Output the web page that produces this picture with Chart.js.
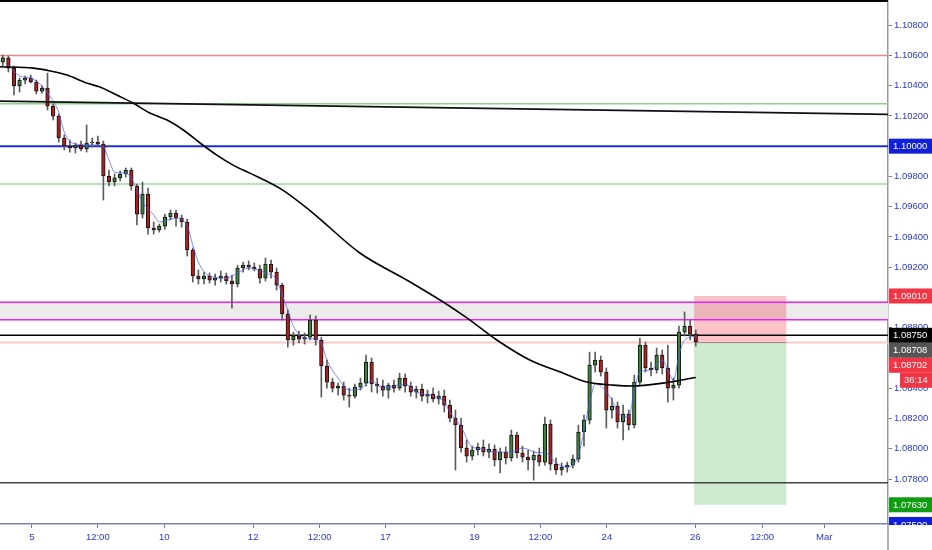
<!DOCTYPE html>
<html>
<head>
<meta charset="utf-8">
<title>EURUSD</title>
<script src="https://cdn.jsdelivr.net/npm/chart.js@4.4.1/dist/chart.umd.min.js"></script>
<style>
    html, body { margin: 0; padding: 0; background: #ffffff; }
    #wrap { width: 932px; height: 550px; position: relative; }
</style>
</head>
<body>
<div id="wrap"><canvas id="myChart"></canvas></div>
<script>
// candles, one slot each (index = x position)
const candleOpen = [
    1.10556, 1.10583, 1.10516, 1.10398, 1.10437, 1.10450, 1.10424, 1.10364, 1.10384, 1.10265,
    1.10199, 1.10054, 1.10001, 1.09988, 1.10008, 1.09981, 1.10021, 1.10027, 1.10014, 1.09803,
    1.09763, 1.09790, 1.09816, 1.09842, 1.09737, 1.09551, 1.09684, 1.09459, 1.09446, 1.09472,
    1.09532, 1.09558, 1.09525, 1.09499, 1.09314, 1.09142, 1.09122, 1.09142, 1.09115, 1.09128,
    1.09142, 1.09109, 1.09089, 1.09195, 1.09214, 1.09201, 1.09188, 1.09128, 1.09221, 1.09168,
    1.09082, 1.08891, 1.08719, 1.08745, 1.08725, 1.08738, 1.08851, 1.08719, 1.08547, 1.08441,
    1.08401, 1.08415, 1.08355, 1.08348, 1.08408, 1.08434, 1.08573, 1.08428, 1.08415, 1.08388,
    1.08421, 1.08401, 1.08467, 1.08415, 1.08375, 1.08395, 1.08348, 1.08362, 1.08329, 1.08348,
    1.08289, 1.08203, 1.08157, 1.08005, 1.07952, 1.07992, 1.08012, 1.07978, 1.07998, 1.07926,
    1.07978, 1.07939, 1.08091, 1.07972, 1.07945, 1.07926, 1.07959, 1.07912, 1.08164, 1.07899,
    1.07860, 1.07879, 1.07892, 1.07932, 1.08111, 1.08190, 1.08553, 1.08587, 1.08507, 1.08256,
    1.08282, 1.08177, 1.08229, 1.08157, 1.08441, 1.08685, 1.08534, 1.08521, 1.08619, 1.08534,
    1.08401, 1.08421, 1.08771, 1.08811, 1.08758
]
const candleHigh = [
    1.10602, 1.10596, 1.10530, 1.10450, 1.10464, 1.10470, 1.10437, 1.10398, 1.10483, 1.10279,
    1.10212, 1.10074, 1.10041, 1.10021, 1.10034, 1.10140, 1.10054, 1.10067, 1.10034, 1.09842,
    1.09816, 1.09836, 1.09856, 1.09856, 1.09750, 1.09763, 1.09723, 1.09499, 1.09485, 1.09551,
    1.09578, 1.09578, 1.09545, 1.09518, 1.09327, 1.09182, 1.09168, 1.09162, 1.09155, 1.09175,
    1.09162, 1.09148, 1.09214, 1.09234, 1.09241, 1.09228, 1.09214, 1.09261, 1.09248, 1.09195,
    1.09095, 1.08917, 1.08771, 1.08778, 1.08765, 1.08884, 1.08877, 1.08738, 1.08587, 1.08467,
    1.08434, 1.08441, 1.08401, 1.08428, 1.08467, 1.08619, 1.08600, 1.08467, 1.08454, 1.08434,
    1.08454, 1.08500, 1.08494, 1.08441, 1.08415, 1.08428, 1.08388, 1.08401, 1.08381, 1.08388,
    1.08322, 1.08256, 1.08203, 1.08058, 1.08018, 1.08038, 1.08058, 1.08032, 1.08025, 1.08005,
    1.08012, 1.08124, 1.08111, 1.08018, 1.07992, 1.07985, 1.08005, 1.08210, 1.08190, 1.07939,
    1.07906, 1.07912, 1.07959, 1.08157, 1.08223, 1.08639, 1.08639, 1.08613, 1.08534, 1.08335,
    1.08309, 1.08289, 1.08256, 1.08487, 1.08732, 1.08705, 1.08573, 1.08666, 1.08653, 1.08685,
    1.08467, 1.08811, 1.08904, 1.08851, 1.08785
]
const candleLow = [
    1.10530, 1.10490, 1.10338, 1.10358, 1.10411, 1.10417, 1.10345, 1.10351, 1.10239, 1.10173,
    1.10027, 1.09975, 1.09961, 1.09955, 1.09968, 1.09961, 1.09994, 1.10001, 1.09644, 1.09737,
    1.09737, 1.09770, 1.09796, 1.09710, 1.09479, 1.09525, 1.09419, 1.09419, 1.09432, 1.09452,
    1.09512, 1.09472, 1.09465, 1.09274, 1.09102, 1.09089, 1.09089, 1.09095, 1.09082, 1.09102,
    1.09089, 1.08930, 1.09069, 1.09168, 1.09182, 1.09175, 1.09095, 1.09109, 1.09128, 1.09049,
    1.08851, 1.08672, 1.08685, 1.08699, 1.08692, 1.08719, 1.08685, 1.08342, 1.08401, 1.08375,
    1.08355, 1.08322, 1.08276, 1.08335, 1.08388, 1.08415, 1.08375, 1.08368, 1.08348, 1.08335,
    1.08375, 1.08388, 1.08375, 1.08348, 1.08335, 1.08315, 1.08302, 1.08309, 1.08296, 1.08243,
    1.08177, 1.07860, 1.07978, 1.07912, 1.07926, 1.07959, 1.07952, 1.07939, 1.07886, 1.07840,
    1.07899, 1.07919, 1.07939, 1.07912, 1.07860, 1.07793, 1.07886, 1.07892, 1.07860, 1.07833,
    1.07826, 1.07846, 1.07873, 1.07912, 1.08018, 1.08164, 1.08507, 1.08481, 1.08137, 1.08203,
    1.08137, 1.08058, 1.08124, 1.08137, 1.08421, 1.08507, 1.08481, 1.08500, 1.08494, 1.08309,
    1.08322, 1.08401, 1.08745, 1.08719, 1.08679
]
const candleClose = [
    1.10583, 1.10516, 1.10398, 1.10437, 1.10450, 1.10424, 1.10364, 1.10384, 1.10265, 1.10199,
    1.10054, 1.10001, 1.09988, 1.10008, 1.09981, 1.10021, 1.10027, 1.10014, 1.09803, 1.09763,
    1.09790, 1.09816, 1.09842, 1.09737, 1.09551, 1.09684, 1.09459, 1.09446, 1.09472, 1.09532,
    1.09558, 1.09525, 1.09499, 1.09314, 1.09142, 1.09122, 1.09142, 1.09115, 1.09128, 1.09142,
    1.09109, 1.09089, 1.09195, 1.09214, 1.09201, 1.09188, 1.09128, 1.09221, 1.09168, 1.09082,
    1.08891, 1.08719, 1.08745, 1.08725, 1.08738, 1.08851, 1.08719, 1.08547, 1.08441, 1.08401,
    1.08415, 1.08355, 1.08348, 1.08408, 1.08434, 1.08573, 1.08428, 1.08415, 1.08388, 1.08421,
    1.08401, 1.08467, 1.08415, 1.08375, 1.08395, 1.08348, 1.08362, 1.08329, 1.08348, 1.08289,
    1.08203, 1.08157, 1.08005, 1.07952, 1.07992, 1.08012, 1.07978, 1.07998, 1.07926, 1.07978,
    1.07939, 1.08091, 1.07972, 1.07945, 1.07926, 1.07959, 1.07912, 1.08164, 1.07899, 1.07860,
    1.07879, 1.07892, 1.07932, 1.08111, 1.08190, 1.08553, 1.08587, 1.08507, 1.08256, 1.08282,
    1.08177, 1.08229, 1.08157, 1.08441, 1.08685, 1.08534, 1.08521, 1.08619, 1.08534, 1.08401,
    1.08421, 1.08771, 1.08811, 1.08758, 1.08708
]

// slow moving average (black curve)
const maSlots = [-0.5, 5.5, 8.5, 11.5, 15, 17.4, 20.4, 23.3, 26.3, 29.4, 32.3, 35.3, 38.3, 41.2, 44.2,
    50.1, 55.5, 63.9, 72.3, 78.8, 81.8, 83.6, 88.4, 94.3, 100.3, 104.5, 109.2, 112.8, 118.1, 124]
const maValues = [1.10525, 1.10516, 1.10497, 1.10470, 1.10417, 1.10391, 1.10338, 1.10285, 1.10219, 1.10173,
    1.10107, 1.10021, 1.09941, 1.09875, 1.09822, 1.09710, 1.09558, 1.09294, 1.09115, 1.08970,
    1.08897, 1.08851, 1.08719, 1.08587, 1.08500, 1.08441, 1.08421, 1.08415, 1.08434, 1.08471]

// fast average (thin blue)
const emaSlots = [1, 3, 5, 7, 8, 10, 11, 13, 16, 18, 19, 20, 22, 23, 24, 25, 27, 28, 31, 33, 34, 35, 37, 40,
    42, 44, 47, 49, 50, 51, 52, 54, 56, 57, 58, 60, 62, 64, 66, 68, 72, 74, 77, 79, 80, 82, 84, 86,
    88, 91, 93, 96, 97, 99, 101, 103, 105, 106, 107, 109, 110, 112, 113, 114, 116, 118, 119, 120,
    121, 122, 124]
const emaValues = [1.10536, 1.10464, 1.10450, 1.10398, 1.10351, 1.10226, 1.10093, 1.10014, 1.10008, 1.09994,
    1.09909, 1.09829, 1.09822, 1.09790, 1.09710, 1.09631, 1.09545, 1.09499, 1.09525, 1.09472,
    1.09347, 1.09234, 1.09142, 1.09128, 1.09162, 1.09195, 1.09162, 1.09115, 1.09016, 1.08917,
    1.08811, 1.08732, 1.08725, 1.08699, 1.08587, 1.08467, 1.08388, 1.08395, 1.08448, 1.08401,
    1.08428, 1.08375, 1.08348, 1.08309, 1.08243, 1.08144, 1.08012, 1.07998, 1.07978, 1.07978,
    1.08005, 1.07972, 1.07978, 1.07906, 1.07879, 1.07959, 1.08302, 1.08428, 1.08415, 1.08322,
    1.08243, 1.08210, 1.08388, 1.08507, 1.08521, 1.08587, 1.08521, 1.08454, 1.08619, 1.08719,
    1.08745]

// long trendline
const trendSlots = [-0.5, 158.4]
const trendValues = [1.10298, 1.10210]

// horizontal levels
const levelValues = [1.10600, 1.10280, 1.10000, 1.09750, 1.08968, 1.08853, 1.08750, 1.08702, 1.07776]
const levelColors = ['#ec8585', '#8fd18f', '#1c2fd8', '#74c474', '#ee22ee', '#ee22ee', '#000000', '#f9cccc', '#444444']
const levelWidths = [1.5, 1.5, 2, 1.2, 1.5, 1.5, 1.5, 2, 1.5]
const zoneTop = 1.08968
const zoneBottom = 1.08853

// short position tool
const positionStart = 123.7
const positionEnd = 140.2
const positionEntry = 1.08702
const positionStop = 1.09010
const positionTarget = 1.07630

// axes
const xTickSlots = [5.2, 17.0, 28.9, 44.8, 56.7, 68.5, 84.4, 96.2, 108.1, 123.9, 135.9, 147.0]
const xTickLabels = ['5', '12:00', '10', '12', '12:00', '17', '19', '12:00', '24', '26', '12:00', 'Mar']
const yTickValues = [1.076, 1.078, 1.080, 1.082, 1.084, 1.086, 1.088, 1.090, 1.092, 1.094,
    1.096, 1.098, 1.100, 1.102, 1.104, 1.106, 1.108]

// price tags on the right scale
const tagValues = [1.10000, 1.09010, 1.08750, 1.08708, 1.08702, 1.07630, 1.07500]
const tagTexts = ['1.10000', '1.09010', '1.08750', '1.08708', '1.08702', '1.07630', '1.07500']
const tagColors = ['#1020d8', '#f23645', '#000000', '#555555', '#f23645', '#109c10', '#1020d8']
const countdownText = '36:14'

const FONT = 'Liberation Sans'
const axisBlue = '#2a38cf'

const drawings = {
    id: 'drawings',
    beforeDatasetsDraw(chart) {
        const { ctx, chartArea: a, scales } = chart
        const x = scales.x, y = scales.y
        ctx.save()
        ctx.beginPath()
        ctx.rect(a.left, a.top, a.right - a.left, a.bottom - a.top)
        ctx.clip()

        let zt = y.getPixelForValue(zoneTop)
        let zb = y.getPixelForValue(zoneBottom)
        ctx.fillStyle = '#ebebeb'
        ctx.fillRect(a.left, zt, a.right - a.left, zb - zt)

        let p0 = x.getPixelForValue(positionStart)
        let p1 = x.getPixelForValue(positionEnd)
        let ys = y.getPixelForValue(positionStop)
        let ye = y.getPixelForValue(positionEntry)
        let yt = y.getPixelForValue(positionTarget)
        ctx.fillStyle = 'rgba(242, 54, 69, 0.3)'
        ctx.fillRect(p0, ys, p1 - p0, ye - ys)
        ctx.fillStyle = 'rgba(76, 175, 80, 0.28)'
        ctx.fillRect(p0, ye, p1 - p0, yt - ye)

        levelValues.forEach((v, i) => {
            let py = y.getPixelForValue(v)
            ctx.strokeStyle = levelColors[i]
            ctx.lineWidth = levelWidths[i]
            ctx.beginPath()
            ctx.moveTo(a.left, py)
            ctx.lineTo(a.right, py)
            ctx.stroke()
        })

        ctx.strokeStyle = '#8c8c8c'
        ctx.lineWidth = 1
        ctx.beginPath()
        ctx.moveTo(p0, ye)
        ctx.lineTo(p1, ye)
        ctx.stroke()

        // top edge
        ctx.strokeStyle = '#000'
        ctx.lineWidth = 2
        ctx.beginPath()
        ctx.moveTo(a.left, a.top + 1)
        ctx.lineTo(a.right, a.top + 1)
        ctx.stroke()
        ctx.restore()
    },
    afterDraw(chart) {
        const { ctx, chartArea: a, scales } = chart
        const y = scales.y
        ctx.save()
        ctx.strokeStyle = '#9a9a9a'
        ctx.lineWidth = 1.5
        ctx.beginPath()
        ctx.moveTo(a.right, a.bottom)
        ctx.lineTo(a.right, chart.height)
        ctx.stroke()

        ctx.beginPath()
        ctx.rect(a.right, 0, chart.width - a.right, a.bottom + 1)
        ctx.clip()

        const h = 15
        let tags = tagValues.map((v, i) => ({ py: y.getPixelForValue(v), text: tagTexts[i], color: tagColors[i] }))
        tags.sort((p, q) => p.py - q.py)
        let prev = -100
        tags.forEach(t => {
            if (t.py - prev < h) t.py = prev + h
            prev = t.py
        })
        ctx.font = '9.5px ' + FONT
        ctx.textBaseline = 'middle'
        tags.forEach(t => {
            ctx.fillStyle = t.color
            ctx.fillRect(a.right + 1, t.py - h / 2, chart.width - a.right, h)
            ctx.fillStyle = '#ffffff'
            ctx.fillText(t.text, a.right + 5, t.py + 0.5)
            if (t.text === '1.08702') {
                ctx.fillStyle = '#f23645'
                ctx.fillRect(a.right + 12, t.py + h / 2, chart.width - a.right - 12, h)
                ctx.fillStyle = '#ffffff'
                ctx.fillText(countdownText, a.right + 16, t.py + h + 0.5)
            }
        })
        ctx.restore()
    }
}

const ctx = document.getElementById('myChart').getContext('2d')
const myChart = new Chart(ctx, {
    type: 'bar',
    data: {
        datasets: [
            {
                type: 'line',
                data: trendSlots.map((s, i) => ({ x: s, y: trendValues[i] })),
                borderColor: '#111111',
                borderWidth: 1.8,
                pointRadius: 0,
                order: 1
            },
            {
                type: 'line',
                data: maSlots.map((s, i) => ({ x: s, y: maValues[i] })),
                borderColor: '#000000',
                borderWidth: 1.6,
                pointRadius: 0,
                cubicInterpolationMode: 'monotone',
                order: 1
            },
            {
                type: 'line',
                data: emaSlots.map((s, i) => ({ x: s, y: emaValues[i] })),
                borderColor: 'rgba(70, 95, 235, 0.7)',
                borderWidth: 1,
                pointRadius: 0,
                cubicInterpolationMode: 'monotone',
                order: 2
            },
            {
                type: 'bar',
                data: candleOpen.map((o, i) => ({ x: i, y: [o, candleClose[i]] })),
                backgroundColor: candleClose.map((c, i) => c >= candleOpen[i] ? '#3f803f' : '#b01f1f'),
                borderColor: '#111111',
                borderWidth: 1,
                borderSkipped: false,
                barThickness: 3.6,
                grouped: false,
                order: 3
            },
            {
                type: 'bar',
                data: candleLow.map((l, i) => ({ x: i, y: [l, candleHigh[i]] })),
                backgroundColor: '#5c5c5c',
                barThickness: 1,
                grouped: false,
                order: 4
            }
        ]
    },
    options: {
        responsive: true,
        maintainAspectRatio: false,
        animation: false,
        events: [],
        layout: { padding: 0 },
        plugins: {
            legend: { display: false },
            tooltip: { enabled: false }
        },
        scales: {
            x: {
                type: 'linear',
                min: -0.5,
                max: 158.4,
                offset: false,
                grid: { drawOnChartArea: false, offset: false, tickLength: 4, color: '#6f7aa8' },
                border: { color: '#7682b8', width: 1.5 },
                ticks: {
                    autoSkip: false,
                    maxRotation: 0,
                    padding: 4,
                    color: axisBlue,
                    font: { family: FONT, size: 9.5 },
                    callback: (v, i) => xTickLabels[i]
                },
                afterBuildTicks: scale => { scale.ticks = xTickSlots.map(v => ({ value: v })) },
                afterFit: scale => {
                    scale.height = 26
                    scale.paddingLeft = 0
                    scale.paddingRight = 0
                }
            },
            y: {
                type: 'linear',
                position: 'right',
                min: 1.07503,
                max: 1.10966,
                grid: { drawOnChartArea: false, tickLength: 4, color: '#808080' },
                border: { color: '#9a9a9a', width: 1.5 },
                ticks: {
                    autoSkip: false,
                    padding: 2,
                    color: axisBlue,
                    font: { family: FONT, size: 9.5 },
                    callback: v => v.toFixed(5)
                },
                afterBuildTicks: scale => { scale.ticks = yTickValues.map(v => ({ value: v })) },
                afterFit: scale => {
                    scale.width = 44
                    scale.paddingTop = 0
                    scale.paddingBottom = 0
                }
            }
        }
    },
    plugins: [drawings]
})
</script>
</body>
</html>
